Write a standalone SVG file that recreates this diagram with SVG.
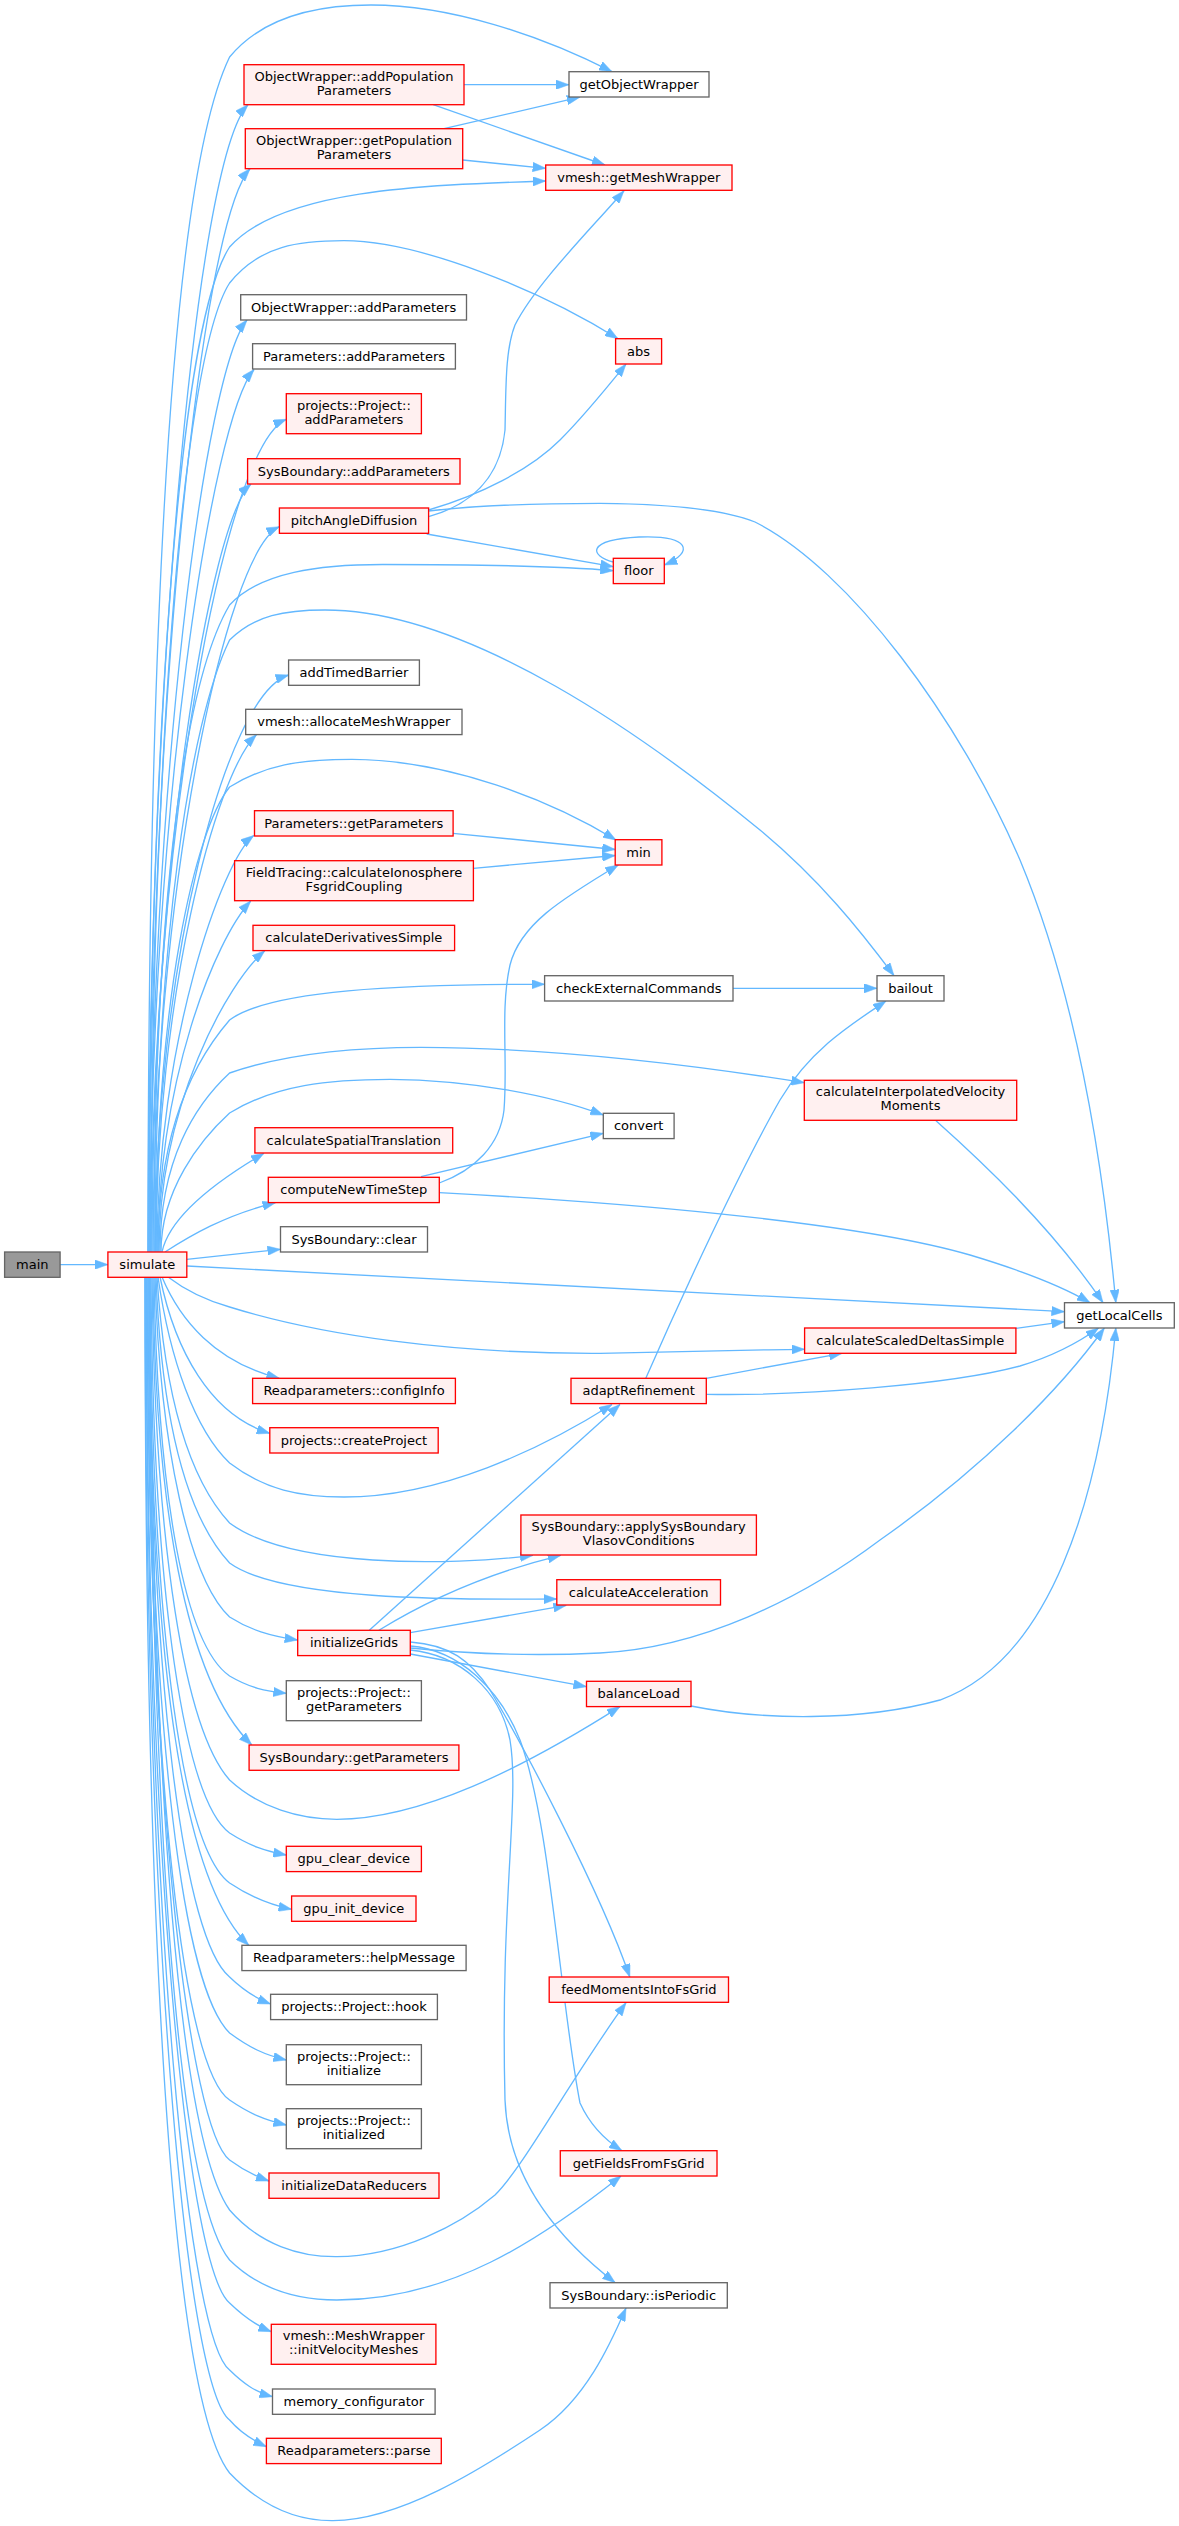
<svg xmlns="http://www.w3.org/2000/svg" width="1179" height="2526" viewBox="0 0 1179 2526">
<style>
.r rect{fill:#fff0f0;stroke:#ff0000;stroke-width:1.33}
.g rect{fill:#ffffff;stroke:#666666;stroke-width:1.33}
.m rect{fill:#999999;stroke:#666666;stroke-width:1.33}
text{font-family:"DejaVu Sans","Liberation Sans",sans-serif;font-size:13px;fill:#000;text-anchor:middle}
#edges path{fill:none;stroke:#63b8ff;stroke-width:1.33;marker-end:url(#a)}
</style>
<defs>
<marker id="a" viewBox="0 0 13 9.4" refX="13" refY="4.7" markerWidth="13" markerHeight="9.4" markerUnits="userSpaceOnUse" orient="auto">
<path d="M0,0 L13,4.7 L0,9.4 z" fill="#63b8ff" stroke="#63b8ff" stroke-width="0.5"/>
</marker>
</defs>
<rect width="1179" height="2526" fill="#ffffff"/>
<g id="edges">
<path d="M60,1264.6 L107.9,1264.6"/>
<path d="M148,1252 C148,700 165,190 229.6,57 C260,20 310,5 371,5 C450,5 540,35 612,71.7"/>
<path d="M148,1252 C148,700 195,160 248,104.7"/>
<path d="M149,1252 C149,720 200,225 250,168.7"/>
<path d="M149,1252 C149,800 175,330 229.6,247 C280,190 420,185 545.7,181"/>
<path d="M151,1252 C151,800 180,360 229.6,283 C260,245 300,240.7 344,240.7 C420,241 540,290 618,338.7"/>
<path d="M150,1252 C150,790 205,370 247,320"/>
<path d="M150,1252 C150,815 212,418 254,369.5"/>
<path d="M151,1252 C151,840 225,445 286.3,419.3"/>
<path d="M152,1252 C152,870 210,520 251,484"/>
<path d="M153,1252 C153,900 225,552 279.4,526.7"/>
<path d="M154,1252 C154,900 185,680 229.6,605 C260,572 320,564.5 382.7,564.5 C480,564.5 560,566 613.3,570.7"/>
<path d="M155,1252 C155,950 190,720 229.6,640 C255,615 285,610 325,610 C470,610 650,740 760,830 C820,880 860,930 894,975.7"/>
<path d="M155,1252 C155,970 225,695 288.6,675"/>
<path d="M156,1252 C156,1000 215,775 256.4,734.7"/>
<path d="M156,1252 C156,1000 195,830 229.6,787 C265,765 300,759.3 352,759.3 C450,760 550,800 616,840"/>
<path d="M157,1252 C157,1045 222,860 253.7,835.5"/>
<path d="M158,1252 C158,1080 215,940 250.7,901"/>
<path d="M159,1252 C159,1105 228,982 264.8,950.7"/>
<path d="M158,1252 C158,1130 195,1060 229.6,1020 C270,990 400,984.3 544.6,984.3"/>
<path d="M160,1252 C160,1160 195,1105 229.6,1073 C290,1052 360,1047.3 421,1047.3 C560,1048 700,1066 804.3,1082.7"/>
<path d="M161,1252 C161,1190 200,1140 229.6,1113 C275,1085 330,1079.3 390,1079.3 C470,1080 550,1095 603.3,1115"/>
<path d="M162,1252 C170,1215 222,1178 264,1153.3"/>
<path d="M165,1252 C190,1236 225,1215 275.5,1202.7"/>
<path d="M186.8,1259.3 L280.5,1249.3"/>
<path d="M186.8,1266 L1064.5,1311.7"/>
<path d="M168,1277 C185,1290 205,1300 229.6,1307 C320,1335 450,1354 600,1353.3 C680,1352 740,1350 804.6,1349.3"/>
<path d="M162,1277 C180,1320 215,1362 279.4,1378.3"/>
<path d="M160,1277 C175,1350 210,1415 269.8,1433.3"/>
<path d="M158,1277 C170,1360 195,1430 229.6,1463 C265,1490 300,1497 344,1497 C440,1497 540,1450 612,1404.5"/>
<path d="M157,1277 C165,1400 190,1480 229.6,1523 C290,1568 450,1566 533,1555.3"/>
<path d="M156,1277 C162,1430 190,1520 229.6,1563 C280,1600 450,1600 556.8,1599"/>
<path d="M155,1277 C160,1450 190,1580 229.6,1617 C250,1630 270,1636 297.7,1640"/>
<path d="M154,1277 C158,1500 185,1645 229.6,1676 C250,1688 265,1691 286.3,1693.3"/>
<path d="M153,1277 C155,1500 185,1680 251.8,1745"/>
<path d="M152,1277 C155,1550 185,1730 229.6,1780 C260,1808 300,1819.3 336.8,1819.3 C420,1819 520,1770 620,1706.6"/>
<path d="M151,1277 C153,1600 185,1800 229.6,1833 C250,1846 265,1851 286.3,1855"/>
<path d="M150,1277 C152,1650 185,1850 229.6,1883 C252,1898 270,1905 291.6,1909.3"/>
<path d="M149,1277 C150,1650 180,1880 248.8,1945.3"/>
<path d="M149,1277 C150,1700 185,1940 229.6,1977 C243,1990 255,1998 270.6,2004"/>
<path d="M148,1277 C149,1750 185,1990 229.6,2033 C250,2048 265,2055 286.3,2060"/>
<path d="M150,1277 C152,1800 180,2140 229.6,2210 C260,2245 300,2257 336.8,2256.7 C400,2256 460,2225 495,2195 C525,2165 570,2080 626,2002.7"/>
<path d="M147,1277 C149,1800 185,2070 229.6,2100 C250,2114 265,2120 286.3,2125"/>
<path d="M147,1277 C148,1800 190,2130 229.6,2160 C243,2170 255,2176 269,2181"/>
<path d="M149,1277 C151,1850 180,2200 229.6,2260 C260,2290 300,2300 336.8,2300 C450,2300 540,2240 621,2176"/>
<path d="M146,1277 C148,1900 190,2270 229.6,2303 C243,2316 255,2325 271.3,2331.7"/>
<path d="M146,1277 C147,1950 190,2340 229.6,2370 C243,2383 255,2392 272.5,2396.7"/>
<path d="M145,1277 C146,2000 190,2390 229.6,2420 C240,2432 252,2440 266.4,2446.7"/>
<path d="M145,1277 C145,2050 180,2410 229.6,2473 C265,2510 300,2521 333,2520.7 C400,2520 480,2470 540,2430 C585,2400 610,2345 626,2308"/>
<path d="M463.8,84.7 L569,84.7"/>
<path d="M433.2,104.7 L605,165"/>
<path d="M444,128.7 L579.8,97.2"/>
<path d="M462.7,160 L545.7,168.3"/>
<path d="M428.6,511 C480,505 540,503.3 600,503.3 C680,504 730,512 755,522 C850,570 960,720 1020,860 C1070,980 1100,1130 1115.8,1302.7"/>
<path d="M428.6,516.7 C470,505 500,480 505,430 C506,390 505,350 515,325 C535,285 590,230 624,190.7"/>
<path d="M428.6,510 C480,495 530,470 560,440 C585,415 605,390 626,364"/>
<path d="M426.7,534 L613.3,566.7"/>
<path d="M613.3,562 C590,556 585,540 639,537 C690,535 695,552 664.3,565"/>
<path d="M453,833.3 L615.2,849.5"/>
<path d="M473.4,868.3 L615.2,855.5"/>
<path d="M439.3,1183 C475,1170 500,1145 504,1110 C508,1060 500,1010 510,965 C520,925 560,900 618.3,865"/>
<path d="M421,1176.7 L603.3,1133.3"/>
<path d="M439.3,1192.7 C600,1201 850,1220 970,1255 C1020,1270 1060,1285 1090,1302.7"/>
<path d="M733,988.3 L877,988.3"/>
<path d="M645.8,1378.3 C680,1300 740,1170 780,1100 C810,1050 850,1025 886,1001"/>
<path d="M706.3,1378.3 L842,1353.3"/>
<path d="M706.3,1394.3 C800,1396 950,1385 1020,1366 C1050,1357 1075,1345 1098.6,1328"/>
<path d="M1016,1328.3 L1064.5,1321.7"/>
<path d="M936,1120.7 C980,1160 1050,1225 1103,1302.7"/>
<path d="M691,1706 C760,1720 860,1722 940,1700 C1050,1660 1100,1500 1115.8,1328"/>
<path d="M369.3,1630.3 L620,1404.5"/>
<path d="M378.9,1630.3 C420,1605 480,1575 560.7,1555.3"/>
<path d="M410.3,1632.7 L566.4,1605.3"/>
<path d="M410.3,1648 C480,1655 540,1656 600,1653 C700,1648 800,1600 880,1540 C980,1470 1060,1390 1104.3,1328"/>
<path d="M410.3,1654 L586.5,1686.7"/>
<path d="M410.3,1642 C450,1645 470,1660 490,1690 C520,1740 600,1890 629.8,1977"/>
<path d="M410.3,1646 C460,1650 500,1690 520,1740 C550,1820 560,2000 580,2103 C590,2125 605,2140 622,2150.7"/>
<path d="M410.3,1650 C460,1655 500,1690 510,1740 C520,1800 500,1900 505,2100 C508,2180 560,2240 615.2,2282.7"/>
</g>
<g id="n_main" class="m"><rect x="4.6" y="1252" width="55.5" height="25.3"/><text x="32.35" y="1269.15">main</text></g>
<g id="n_simulate" class="r"><rect x="107.9" y="1252" width="78.9" height="25.3"/><text x="147.35" y="1269.15">simulate</text></g>
<g id="n_addPop" class="r"><rect x="244" y="64.7" width="220" height="40"/><text x="354" y="80.7">ObjectWrapper::addPopulation</text><text x="354" y="94.7">Parameters</text></g>
<g id="n_getPop" class="r"><rect x="245.3" y="128.7" width="217.4" height="40"/><text x="354" y="144.7">ObjectWrapper::getPopulation</text><text x="354" y="158.7">Parameters</text></g>
<g id="n_owAddParams" class="g"><rect x="240.7" y="294.7" width="225.8" height="25.3"/><text x="353.6" y="311.85">ObjectWrapper::addParameters</text></g>
<g id="n_paramsAdd" class="g"><rect x="252.6" y="343.7" width="202.8" height="25.3"/><text x="354" y="360.85">Parameters::addParameters</text></g>
<g id="n_projAdd" class="r"><rect x="286.3" y="393.7" width="135.1" height="40"/><text x="353.85" y="409.7">projects::Project::</text><text x="353.85" y="423.7">addParameters</text></g>
<g id="n_sbAdd" class="r"><rect x="247.6" y="458.7" width="212.4" height="25.3"/><text x="353.8" y="475.85">SysBoundary::addParameters</text></g>
<g id="n_pitch" class="r"><rect x="279.4" y="508" width="149.2" height="25.3"/><text x="354" y="525.15">pitchAngleDiffusion</text></g>
<g id="n_timed" class="g"><rect x="288.6" y="660" width="130.8" height="25.3"/><text x="354" y="677.15">addTimedBarrier</text></g>
<g id="n_alloc" class="g"><rect x="245.7" y="709.3" width="216.3" height="25.3"/><text x="353.85" y="726.45">vmesh::allocateMeshWrapper</text></g>
<g id="n_paramsGet" class="r"><rect x="254.5" y="810.7" width="198.6" height="25.3"/><text x="353.8" y="827.85">Parameters::getParameters</text></g>
<g id="n_field" class="r"><rect x="234.6" y="860.7" width="238.8" height="40"/><text x="354" y="876.7">FieldTracing::calculateIonosphere</text><text x="354" y="890.7">FsgridCoupling</text></g>
<g id="n_deriv" class="r"><rect x="253" y="925.3" width="201.6" height="25.3"/><text x="353.8" y="942.45">calculateDerivativesSimple</text></g>
<g id="n_spatial" class="r"><rect x="254.9" y="1127.7" width="197.8" height="25.3"/><text x="353.8" y="1144.85">calculateSpatialTranslation</text></g>
<g id="n_cnts" class="r"><rect x="268.3" y="1177.3" width="171" height="25.3"/><text x="353.8" y="1194.45">computeNewTimeStep</text></g>
<g id="n_sbClear" class="g"><rect x="280.5" y="1226.7" width="147" height="25.3"/><text x="354" y="1243.85">SysBoundary::clear</text></g>
<g id="n_config" class="r"><rect x="252.6" y="1378.3" width="202.8" height="25.3"/><text x="354" y="1395.45">Readparameters::configInfo</text></g>
<g id="n_create" class="r"><rect x="269.8" y="1427.7" width="168.4" height="25.3"/><text x="354" y="1444.85">projects::createProject</text></g>
<g id="n_initGrids" class="r"><rect x="297.7" y="1630.3" width="112.6" height="25.3"/><text x="354" y="1647.45">initializeGrids</text></g>
<g id="n_projGet" class="g"><rect x="286.3" y="1680.7" width="135.1" height="40"/><text x="353.85" y="1696.7">projects::Project::</text><text x="353.85" y="1710.7">getParameters</text></g>
<g id="n_sbGet" class="r"><rect x="249.1" y="1745" width="209.8" height="25.3"/><text x="354" y="1762.15">SysBoundary::getParameters</text></g>
<g id="n_gpuClear" class="r"><rect x="286.3" y="1846.3" width="135.1" height="25.3"/><text x="353.85" y="1863.45">gpu_clear_device</text></g>
<g id="n_gpuInit" class="r"><rect x="291.6" y="1896" width="124.4" height="25.3"/><text x="353.8" y="1913.15">gpu_init_device</text></g>
<g id="n_help" class="g"><rect x="241.9" y="1945.3" width="224.2" height="25.3"/><text x="354" y="1962.45">Readparameters::helpMessage</text></g>
<g id="n_hook" class="g"><rect x="270.6" y="1994.3" width="166.8" height="25.3"/><text x="354" y="2011.45">projects::Project::hook</text></g>
<g id="n_projInit" class="g"><rect x="286.3" y="2044.7" width="135.1" height="40"/><text x="353.85" y="2060.7">projects::Project::</text><text x="353.85" y="2074.7">initialize</text></g>
<g id="n_projInited" class="g"><rect x="286.3" y="2108.7" width="135.1" height="40"/><text x="353.85" y="2124.7">projects::Project::</text><text x="353.85" y="2138.7">initialized</text></g>
<g id="n_dataRed" class="r"><rect x="269" y="2173" width="170" height="25.3"/><text x="354" y="2190.15">initializeDataReducers</text></g>
<g id="n_initVel" class="r"><rect x="271.3" y="2324.3" width="164.6" height="40"/><text x="353.6" y="2340.3">vmesh::MeshWrapper</text><text x="353.6" y="2354.3">::initVelocityMeshes</text></g>
<g id="n_memconf" class="g"><rect x="272.5" y="2389" width="162.6" height="25.3"/><text x="353.8" y="2406.15">memory_configurator</text></g>
<g id="n_parse" class="r"><rect x="266.4" y="2438.3" width="174.9" height="25.3"/><text x="353.85" y="2455.45">Readparameters::parse</text></g>
<g id="n_getOW" class="g"><rect x="569" y="71.7" width="140" height="25.3"/><text x="639" y="88.85">getObjectWrapper</text></g>
<g id="n_getMW" class="r"><rect x="545.7" y="165" width="186.3" height="25.3"/><text x="638.85" y="182.15">vmesh::getMeshWrapper</text></g>
<g id="n_abs" class="r"><rect x="615.6" y="338.7" width="46" height="25.3"/><text x="638.6" y="355.85">abs</text></g>
<g id="n_floor" class="r"><rect x="613.3" y="558.3" width="51" height="25.3"/><text x="638.8" y="575.45">floor</text></g>
<g id="n_min" class="r"><rect x="615.2" y="839.7" width="46.7" height="25.3"/><text x="638.55" y="856.85">min</text></g>
<g id="n_check" class="g"><rect x="544.6" y="975.7" width="188.4" height="25.3"/><text x="638.8" y="992.85">checkExternalCommands</text></g>
<g id="n_convert" class="g"><rect x="603.3" y="1113.3" width="70.8" height="25.3"/><text x="638.7" y="1130.45">convert</text></g>
<g id="n_adapt" class="r"><rect x="571" y="1378.3" width="135.3" height="25.3"/><text x="638.65" y="1395.45">adaptRefinement</text></g>
<g id="n_apply" class="r"><rect x="520.9" y="1515" width="235.5" height="40"/><text x="638.65" y="1531">SysBoundary::applySysBoundary</text><text x="638.65" y="1545">VlasovConditions</text></g>
<g id="n_accel" class="r"><rect x="556.8" y="1579.7" width="163.7" height="25.3"/><text x="638.65" y="1596.85">calculateAcceleration</text></g>
<g id="n_balance" class="r"><rect x="586.5" y="1681.3" width="104.5" height="25.3"/><text x="638.75" y="1698.45">balanceLoad</text></g>
<g id="n_feed" class="r"><rect x="549.2" y="1977" width="179.3" height="25.3"/><text x="638.85" y="1994.15">feedMomentsIntoFsGrid</text></g>
<g id="n_getFields" class="r"><rect x="560.3" y="2150.7" width="156.7" height="25.3"/><text x="638.65" y="2167.85">getFieldsFromFsGrid</text></g>
<g id="n_isPer" class="g"><rect x="550" y="2282.7" width="177.3" height="25.3"/><text x="638.65" y="2299.85">SysBoundary::isPeriodic</text></g>
<g id="n_bailout" class="g"><rect x="877" y="975.7" width="67" height="25.3"/><text x="910.5" y="992.85">bailout</text></g>
<g id="n_interp" class="r"><rect x="804.3" y="1080.3" width="212.4" height="40"/><text x="910.5" y="1096.3">calculateInterpolatedVelocity</text><text x="910.5" y="1110.3">Moments</text></g>
<g id="n_scaled" class="r"><rect x="804.6" y="1328" width="211.3" height="25.3"/><text x="910.25" y="1345.15">calculateScaledDeltasSimple</text></g>
<g id="n_getLocal" class="g"><rect x="1064.5" y="1302.7" width="109.8" height="25.3"/><text x="1119.4" y="1319.85">getLocalCells</text></g>
</svg>
